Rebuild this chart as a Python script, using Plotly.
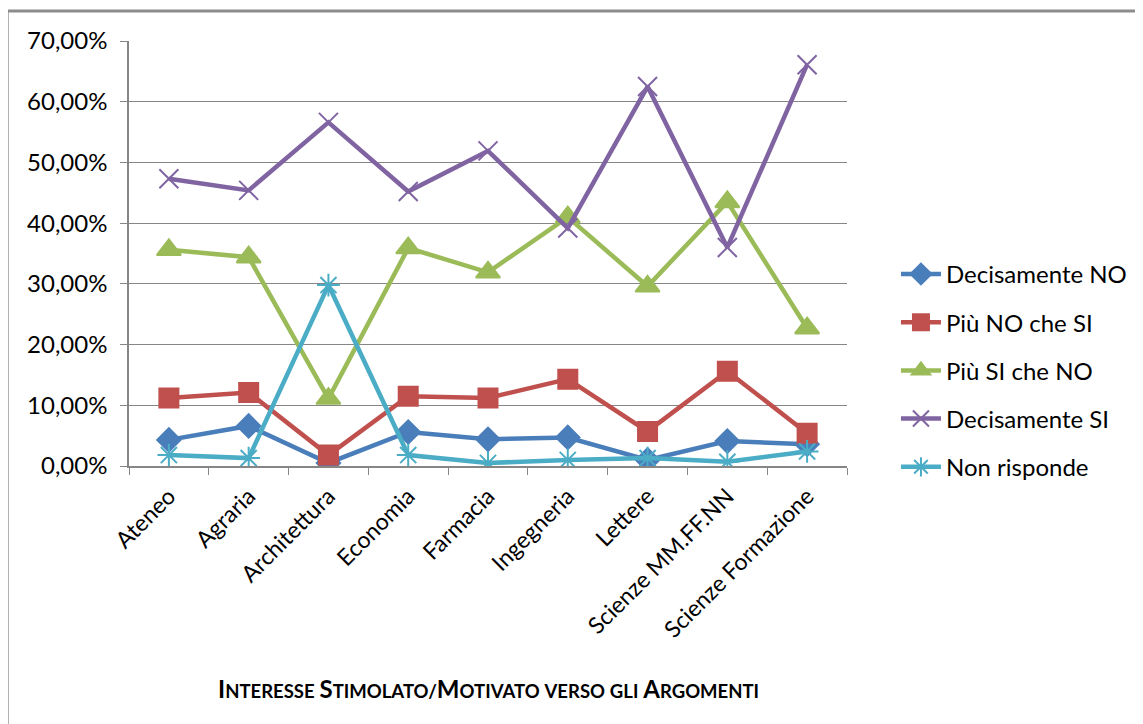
import plotly.graph_objects as go

# categorie e serie
facolta = ['Ateneo', 'Agraria', 'Architettura', 'Economia', 'Farmacia',
           'Ingegneria', 'Lettere', 'Scienze MM.FF.NN', 'Scienze Formazione']

decisamente_no = [0.043, 0.066, 0.005, 0.056, 0.044, 0.047, 0.010, 0.041, 0.036]
piu_no_che_si = [0.112, 0.121, 0.018, 0.115, 0.112, 0.143, 0.057, 0.156, 0.054]
piu_si_che_no = [0.356, 0.344, 0.111, 0.359, 0.319, 0.410, 0.296, 0.435, 0.227]
decisamente_si = [0.473, 0.454, 0.566, 0.452, 0.519, 0.392, 0.625, 0.360, 0.661]
non_risponde = [0.018, 0.013, 0.298, 0.018, 0.005, 0.010, 0.013, 0.007, 0.024]

FONT = 'Lato, "Open Sans", sans-serif'

serie = [
    ('Decisamente NO', decisamente_no, '#4A7EBB', 'diamond', 18),
    ('Più NO che SI', piu_no_che_si, '#C0504D', 'square', 19),
    ('Più SI che NO', piu_si_che_no, '#9BBB59', 'triangle-up', 21),
    ('Decisamente SI', decisamente_si, '#8064A2', 'x-thin-open', 19),
    ('Non risponde', non_risponde, '#4BACC6', 'asterisk-open', 19),
]

fig = go.Figure()
for i, (nome, valori, colore, simbolo, dim) in enumerate(serie):
    fig.add_trace(go.Scatter(x=facolta, y=valori, name=nome, mode='lines+markers',
                             legendgroup='g%d' % i,
                             line=dict(color=colore, width=4.5),
                             marker=dict(symbol=simbolo, size=dim, color=colore,
                                         line=dict(color=colore, width=2))))

# titolo in maiuscoletto
def maiuscoletto(testo):
    out = []
    for parola in testo.split(' '):
        pezzi = []
        for j, ch in enumerate(parola):
            if ch.isupper() and (j == 0 or parola[j - 1] == '/'):
                pezzi.append("<span style='font-size:24px'>%s</span>" % ch)
            else:
                pezzi.append("<span style='font-size:18.5px'>%s</span>" % ch.upper())
        out.append(''.join(pezzi))
    return ' '.join(out)

titolo = maiuscoletto('Interesse Stimolato/Motivato verso gli Argomenti')

fig.add_annotation(text='<b>' + titolo + '</b>', xref='paper', yref='paper',
                   x=0.5, y=-0.523, xanchor='center', yanchor='middle', showarrow=False,
                   font=dict(family=FONT, size=20, color='#000000'))

# cornice esterna
fig.add_shape(type='rect', xref='paper', yref='paper', x0=-0.1697, x1=1.6, y0=-0.8, y1=1.0706,
              line=dict(color='#8c8c8c', width=3), fillcolor='rgba(0,0,0,0)', layer='below')

fig.update_layout(
    width=1135, height=716,
    margin=dict(l=121, r=295, t=33, b=258),
    paper_bgcolor='white', plot_bgcolor='white',
    separators=',.',
    font=dict(family=FONT, size=24, color='#000000'),
    showlegend=True,
    legend=dict(x=1.0667, y=0.225, xanchor='left', yanchor='middle',
                font=dict(family=FONT, size=24, color='#000000'),
                tracegroupgap=14, itemwidth=40),
    xaxis=dict(showgrid=False, showline=True, linecolor='#868686', linewidth=1.5,
               ticks='outside', tickson='boundaries', ticklen=7, tickcolor='#868686',
               tickangle=-45, tickfont=dict(family=FONT, size=23), range=[-0.5, 8.5],
               ticklabelstandoff=6),
    yaxis=dict(range=[0, 0.7], dtick=0.1, tickformat='.2%', showgrid=True,
               gridcolor='#868686', gridwidth=1, showline=True, linecolor='#868686',
               linewidth=1.5, ticks='outside', ticklen=7, tickcolor='#868686',
               tickfont=dict(family=FONT, size=24), zeroline=False,
               ticklabelstandoff=8),
)

fig.write_html('out.html')
